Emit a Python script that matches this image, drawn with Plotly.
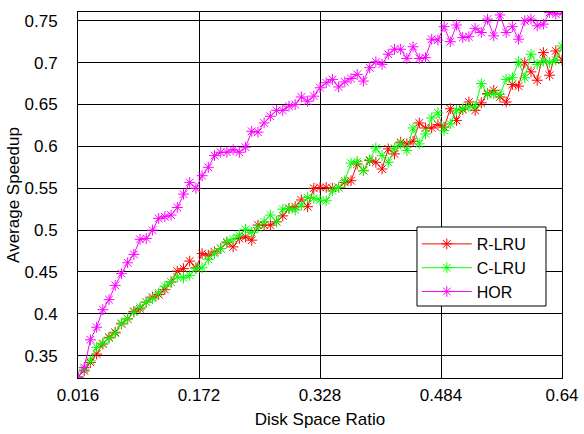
import plotly.graph_objects as go

disk_ratio = [
    0.016, 0.024, 0.032, 0.040, 0.048, 0.056, 0.064, 0.072, 0.080, 0.088,
    0.096, 0.104, 0.112, 0.120, 0.128, 0.136, 0.144, 0.152, 0.160, 0.168,
    0.176, 0.184, 0.192, 0.200, 0.208, 0.216, 0.224, 0.232, 0.240, 0.248,
    0.256, 0.264, 0.272, 0.280, 0.288, 0.296, 0.304, 0.312, 0.320, 0.328,
    0.336, 0.344, 0.352, 0.360, 0.368, 0.376, 0.384, 0.392, 0.400, 0.408,
    0.416, 0.424, 0.432, 0.440, 0.448, 0.456, 0.464, 0.472, 0.480, 0.488,
    0.496, 0.504, 0.512, 0.520, 0.528, 0.536, 0.544, 0.552, 0.560, 0.568,
    0.576, 0.584, 0.592, 0.600, 0.608, 0.616, 0.624, 0.632, 0.640,
]

r_lru = [
    0.3245, 0.332, 0.342, 0.352, 0.364, 0.372, 0.378, 0.388, 0.394, 0.403,
    0.406, 0.414, 0.420, 0.423, 0.429, 0.438, 0.451, 0.454, 0.463, 0.455,
    0.472, 0.470, 0.474, 0.478, 0.485, 0.480, 0.490, 0.492, 0.488, 0.506,
    0.506, 0.506, 0.510, 0.517, 0.526, 0.528, 0.536, 0.528, 0.550, 0.551,
    0.551, 0.550, 0.551, 0.557, 0.559, 0.579, 0.571, 0.583, 0.581, 0.573,
    0.597, 0.591, 0.605, 0.603, 0.606, 0.628, 0.622, 0.622, 0.626, 0.623,
    0.645, 0.631, 0.644, 0.653, 0.643, 0.652, 0.663, 0.667, 0.659, 0.653,
    0.674, 0.672, 0.700, 0.689, 0.679, 0.712, 0.685, 0.714, 0.703,
]

c_lru = [
    0.3245, 0.334, 0.344, 0.360, 0.365, 0.371, 0.377, 0.389, 0.394, 0.402,
    0.408, 0.414, 0.418, 0.425, 0.433, 0.438, 0.444, 0.443, 0.446, 0.454,
    0.455, 0.465, 0.472, 0.478, 0.486, 0.489, 0.494, 0.501, 0.497, 0.503,
    0.510, 0.518, 0.510, 0.525, 0.526, 0.524, 0.530, 0.539, 0.538, 0.536,
    0.535, 0.547, 0.551, 0.559, 0.580, 0.582, 0.571, 0.584, 0.598, 0.589,
    0.581, 0.598, 0.603, 0.595, 0.622, 0.603, 0.615, 0.634, 0.640, 0.619,
    0.627, 0.643, 0.645, 0.647, 0.648, 0.675, 0.662, 0.663, 0.662, 0.680,
    0.682, 0.701, 0.682, 0.710, 0.698, 0.702, 0.700, 0.703, 0.720,
]

hor = [
    0.3245, 0.336, 0.369, 0.384, 0.405, 0.417, 0.434, 0.448, 0.461, 0.471,
    0.489, 0.490, 0.500, 0.514, 0.516, 0.518, 0.527, 0.543, 0.557, 0.550,
    0.565, 0.575, 0.589, 0.593, 0.593, 0.596, 0.593, 0.599, 0.618, 0.617,
    0.628, 0.636, 0.643, 0.643, 0.648, 0.650, 0.659, 0.654, 0.660, 0.670,
    0.676, 0.680, 0.671, 0.677, 0.681, 0.686, 0.678, 0.694, 0.701, 0.698,
    0.710, 0.716, 0.716, 0.705, 0.719, 0.705, 0.706, 0.728, 0.727, 0.743,
    0.725, 0.745, 0.730, 0.731, 0.741, 0.736, 0.752, 0.732, 0.757, 0.736,
    0.743, 0.728, 0.750, 0.752, 0.744, 0.746, 0.760, 0.758, 0.759,
]

x_ticks = [0.016, 0.172, 0.328, 0.484, 0.64]
x_tick_labels = ["0.016", "0.172", "0.328", "0.484", "0.64"]
y_ticks = [0.35, 0.4, 0.45, 0.5, 0.55, 0.6, 0.65, 0.7, 0.75]
y_tick_labels = ["0.35", "0.4", "0.45", "0.5", "0.55", "0.6", "0.65", "0.7", "0.75"]

series = [
    ("R-LRU", r_lru, "#ff0000"),
    ("C-LRU", c_lru, "#00ff00"),
    ("HOR", hor, "#ff00ff"),
]

FONT = "Liberation Sans, Arial, Helvetica, sans-serif"

fig = go.Figure()
for name, vals, color in series:
    fig.add_trace(go.Scatter(
        x=disk_ratio, y=vals, name=name, mode="lines+markers",
        line=dict(color=color, width=1),
        marker=dict(symbol="asterisk-open", size=9,
                    line=dict(color=color, width=1), color=color),
    ))

axis_common = dict(
    showline=True, mirror=True, linecolor="black", linewidth=1,
    showgrid=True, gridcolor="black", gridwidth=1,
    zeroline=False, ticks="inside", ticklen=5, tickcolor="black",
    tickfont=dict(family=FONT, size=17, color="black"),
    automargin=False,
)

fig.update_xaxes(
    range=[0.016, 0.64], tickvals=x_ticks, ticktext=x_tick_labels,
    ticklabelstandoff=2,
    title=dict(text="Disk Space Ratio", font=dict(family=FONT, size=17, color="black"), standoff=8),
    **axis_common,
)
fig.update_yaxes(
    range=[0.3234, 0.7605], tickvals=y_ticks, ticktext=y_tick_labels,
    ticklabelstandoff=16,
    title=dict(text="Average Speedup", font=dict(family=FONT, size=17, color="black"), standoff=0),
    **axis_common,
)

# legend frame (MATLAB-style box)
fig.add_shape(
    type="rect", xref="paper", yref="paper",
    x0=0.7004, x1=0.9669, y0=0.1967, y1=0.4126,
    fillcolor="white", line=dict(color="black", width=1), layer="above",
)

fig.update_layout(
    width=584, height=434,
    margin=dict(l=78, r=22, t=12, b=56),
    paper_bgcolor="white", plot_bgcolor="white",
    font=dict(family=FONT, size=17, color="black"),
    showlegend=True,
    legend=dict(
        x=0.700, y=0.4126, xanchor="left", yanchor="top",
        bgcolor="rgba(0,0,0,0)", borderwidth=0,
        font=dict(family=FONT, size=16, color="black"),
        itemwidth=50, tracegroupgap=0,
    ),
)

fig.write_html("out.html")
